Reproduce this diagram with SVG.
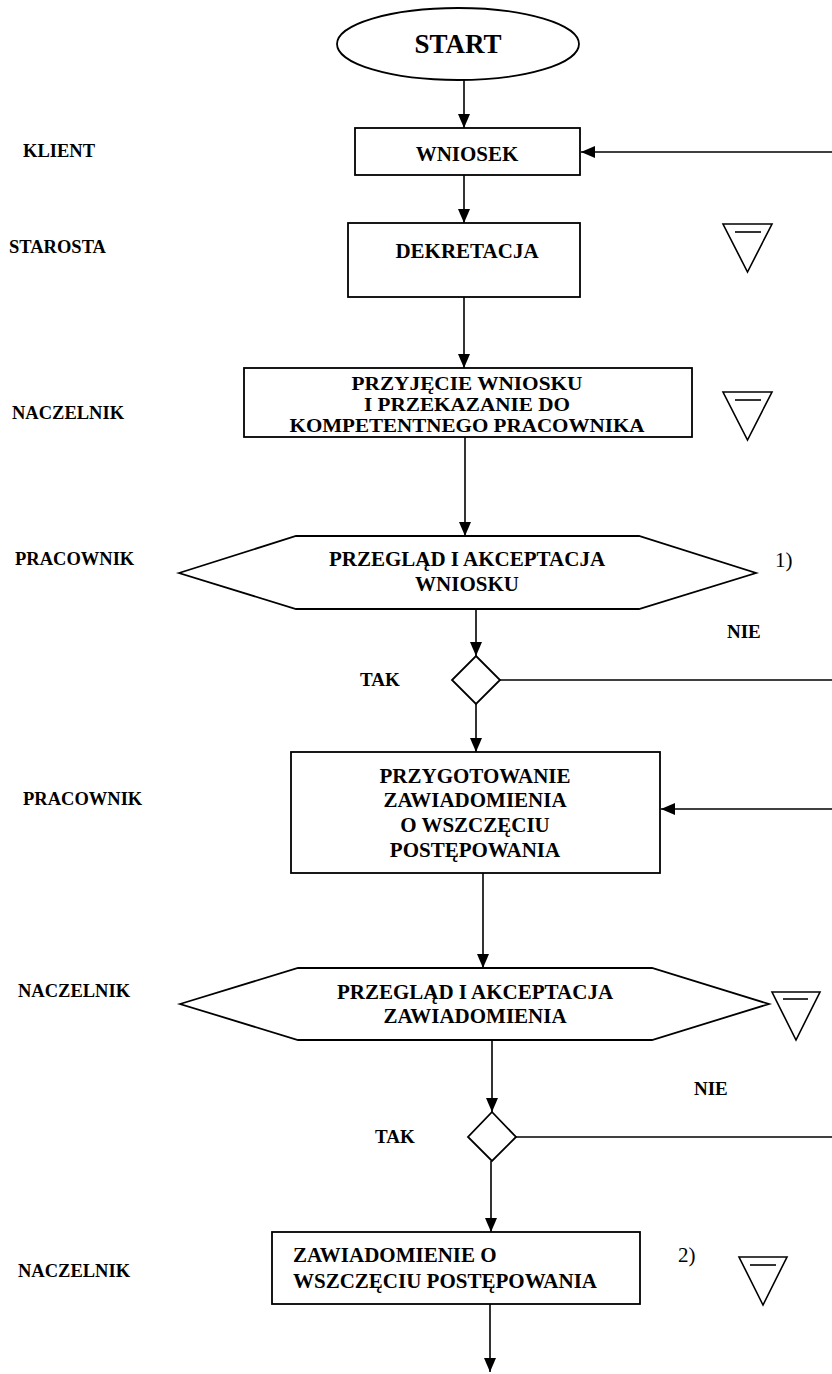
<svg xmlns="http://www.w3.org/2000/svg" width="832" height="1374" viewBox="0 0 832 1374">
<style>
.s{fill:#fff;stroke:#000;stroke-width:1.8}
.c{fill:none;stroke:#000;stroke-width:1.6}
.t{font-family:"Liberation Serif","Times New Roman",serif;font-weight:bold;font-size:21px;fill:#000}
.m{text-anchor:middle}
.l{font-family:"Liberation Serif","Times New Roman",serif;font-weight:bold;font-size:18.5px;fill:#000}
.n{font-family:"Liberation Serif","Times New Roman",serif;font-size:21px;fill:#000}
.tri{fill:none;stroke:#000;stroke-width:1.6}
.p{font-size:19px}
</style>
<defs>
<marker id="ah" viewBox="0 0 14 12" refX="14" refY="6" markerWidth="14" markerHeight="12" markerUnits="userSpaceOnUse" orient="auto">
<path d="M0,0 L14,6 L0,12 z" fill="#000"/>
</marker>
</defs>

<g id="lanes">
<text class="l" x="23" y="157">KLIENT</text>
<text class="l" x="9" y="253">STAROSTA</text>
<text class="l" x="12" y="419">NACZELNIK</text>
<text class="l" x="15" y="565">PRACOWNIK</text>
<text class="l" x="23" y="805">PRACOWNIK</text>
<text class="l" x="18" y="997">NACZELNIK</text>
<text class="l" x="18" y="1277">NACZELNIK</text>
</g>

<g id="connectors">
<line class="c" x1="464" y1="80" x2="464" y2="128" marker-end="url(#ah)"/>
<line class="c" x1="464" y1="175" x2="464" y2="223" marker-end="url(#ah)"/>
<line class="c" x1="832" y1="152" x2="581" y2="152" marker-end="url(#ah)"/>
<line class="c" x1="464" y1="297" x2="464" y2="368" marker-end="url(#ah)"/>
<line class="c" x1="465" y1="437" x2="465" y2="536" marker-end="url(#ah)"/>
<line class="c" x1="476" y1="609" x2="476" y2="656" marker-end="url(#ah)"/>
<line class="c" x1="499" y1="680" x2="832" y2="680"/>
<line class="c" x1="476" y1="704" x2="476" y2="752" marker-end="url(#ah)"/>
<line class="c" x1="832" y1="809" x2="661" y2="809" marker-end="url(#ah)"/>
<line class="c" x1="483" y1="873" x2="483" y2="968" marker-end="url(#ah)"/>
<line class="c" x1="492" y1="1040" x2="492" y2="1112" marker-end="url(#ah)"/>
<line class="c" x1="516" y1="1137" x2="832" y2="1137"/>
<line class="c" x1="491" y1="1161" x2="491" y2="1232" marker-end="url(#ah)"/>
<line class="c" x1="490" y1="1304" x2="490" y2="1372" marker-end="url(#ah)"/>
</g>

<g id="start">
<ellipse class="s" cx="458" cy="44" rx="121" ry="36"/>
<text class="t m" x="458" y="53" style="font-size:27px">START</text>
</g>

<g id="wniosek">
<rect class="s" x="355" y="128" width="225" height="47"/>
<text class="t m" x="467" y="161">WNIOSEK</text>
</g>

<g id="dekretacja">
<rect class="s" x="348" y="223" width="232" height="74"/>
<text class="t m" x="467" y="258">DEKRETACJA</text>
</g>

<g id="przyjecie">
<rect class="s" x="244" y="368" width="448" height="69"/>
<text class="t m p" x="467" y="390" textLength="231" lengthAdjust="spacingAndGlyphs">PRZYJĘCIE WNIOSKU</text>
<text class="t m p" x="467" y="411" textLength="206" lengthAdjust="spacingAndGlyphs">I PRZEKAZANIE DO</text>
<text class="t m p" x="467" y="432" textLength="355" lengthAdjust="spacingAndGlyphs">KOMPETENTNEGO PRACOWNIKA</text>
</g>

<g id="przeglad1">
<polygon class="s" points="179,573 296,536 639,536 756,573 639,609 296,609"/>
<text class="t m" x="467" y="566">PRZEGLĄD I AKCEPTACJA</text>
<text class="t m" x="467" y="591">WNIOSKU</text>
</g>
<text class="n" x="775" y="567">1)</text>
<text class="l" x="727" y="638" style="font-size:19px">NIE</text>
<text class="l" x="360" y="686" style="font-size:19px">TAK</text>

<g id="decyzja1">
<polygon class="s" points="476,656 500,680 476,704 452,680"/>
</g>

<g id="przygotowanie">
<rect class="s" x="291" y="752" width="369" height="121"/>
<text class="t m" x="475" y="783">PRZYGOTOWANIE</text>
<text class="t m" x="475" y="807">ZAWIADOMIENIA</text>
<text class="t m" x="475" y="832">O WSZCZĘCIU</text>
<text class="t m" x="475" y="857">POSTĘPOWANIA</text>
</g>

<g id="przeglad2">
<polygon class="s" points="180,1004 298,968 652,968 769,1004 652,1040 298,1040"/>
<text class="t m" x="475" y="999">PRZEGLĄD I AKCEPTACJA</text>
<text class="t m" x="475" y="1023">ZAWIADOMIENIA</text>
</g>
<text class="l" x="694" y="1095" style="font-size:19px">NIE</text>
<text class="l" x="375" y="1143" style="font-size:19px">TAK</text>

<g id="decyzja2">
<polygon class="s" points="492,1112 516,1137 492,1161 468,1137"/>
</g>

<g id="zawiadomienie">
<rect class="s" x="272" y="1232" width="368" height="72"/>
<text class="t" x="293" y="1262">ZAWIADOMIENIE O</text>
<text class="t" x="293" y="1288">WSZCZĘCIU POSTĘPOWANIA</text>
</g>
<text class="n" x="678" y="1262">2)</text>

<g id="archiwum1">
<polygon class="tri" points="723,224 772,224 747.5,272"/>
<line class="tri" x1="735" y1="232" x2="761" y2="232"/>
</g>
<g id="archiwum2">
<polygon class="tri" points="723,392 772,392 747.5,440"/>
<line class="tri" x1="735" y1="400" x2="761" y2="400"/>
</g>
<g id="archiwum3">
<polygon class="tri" points="772,992 820,992 796,1040"/>
<line class="tri" x1="783" y1="999" x2="808" y2="999"/>
</g>
<g id="archiwum4">
<polygon class="tri" points="739,1257 787,1257 763,1305"/>
<line class="tri" x1="750" y1="1265" x2="776" y2="1265"/>
</g>
</svg>
